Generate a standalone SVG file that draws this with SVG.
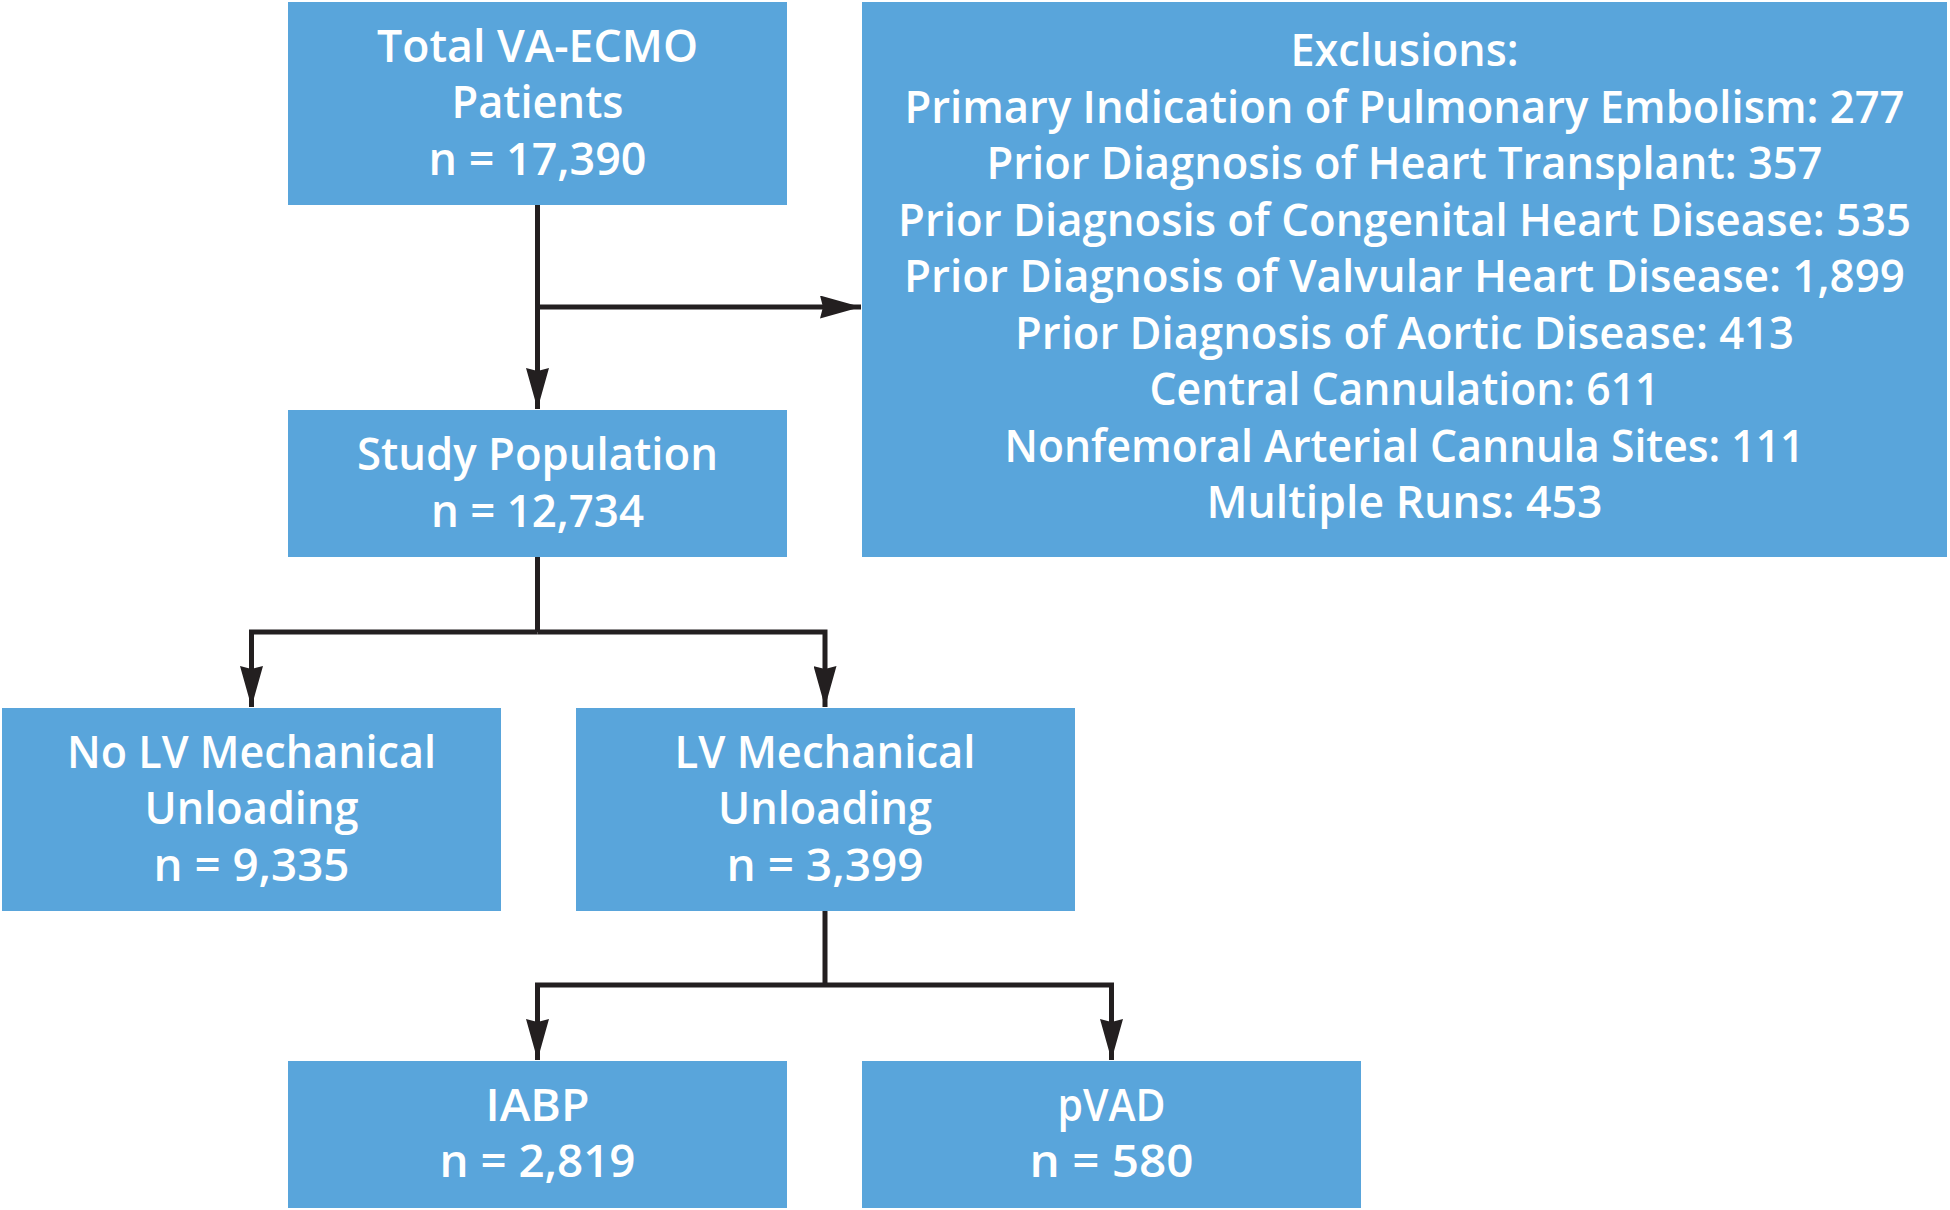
<svg xmlns="http://www.w3.org/2000/svg" width="1950" height="1210" viewBox="0 0 1950 1210">
<style>
.box{fill:#59a5db}
.t{font-family:"Open Sans","Noto Sans","Liberation Sans",sans-serif;font-size:45px;font-weight:600;fill:#ffffff;text-anchor:middle}
.c{fill:none;stroke:#231f20;stroke-width:5;stroke-linejoin:miter}
</style>
<defs>
<marker id="ah" viewBox="0 0 41 23" refX="41" refY="11.5" markerWidth="41" markerHeight="23" markerUnits="userSpaceOnUse" orient="auto">
<path d="M0,0 L41,11.5 L0,23 L3,11.5 z" fill="#231f20"/>
</marker>
</defs>
<rect width="1950" height="1210" fill="#ffffff"/>
<g id="connectors">
<path class="c" d="M537.5,205 V409" marker-end="url(#ah)"/>
<path class="c" d="M537.5,307 H861" marker-end="url(#ah)"/>
<path class="c" d="M537.5,557 V632"/>
<path class="c" d="M537.5,632 H251.5 V707" marker-end="url(#ah)"/>
<path class="c" d="M537.5,632 H825 V707" marker-end="url(#ah)"/>
<path class="c" d="M825,911 V985"/>
<path class="c" d="M825,985 H537.5 V1060" marker-end="url(#ah)"/>
<path class="c" d="M825,985 H1111.5 V1060" marker-end="url(#ah)"/>
</g>
<g id="total">
<rect class="box" x="288" y="2" width="499" height="203"/>
<text class="t" x="537.5" y="61.5" textLength="321" lengthAdjust="spacingAndGlyphs">Total VA-ECMO</text>
<text class="t" x="537.5" y="118" textLength="172" lengthAdjust="spacingAndGlyphs">Patients</text>
<text class="t" x="537.5" y="174.5" textLength="218" lengthAdjust="spacingAndGlyphs">n = 17,390</text>
</g>
<g id="exclusions">
<rect class="box" x="862" y="2" width="1085" height="555"/>
<text class="t" x="1404.5" y="66" textLength="228" lengthAdjust="spacingAndGlyphs">Exclusions:</text>
<text class="t" x="1404.5" y="122.5" textLength="1000" lengthAdjust="spacingAndGlyphs">Primary Indication of Pulmonary Embolism: 277</text>
<text class="t" x="1404.5" y="179" textLength="836" lengthAdjust="spacingAndGlyphs">Prior Diagnosis of Heart Transplant: 357</text>
<text class="t" x="1404.5" y="235.5" textLength="1013" lengthAdjust="spacingAndGlyphs">Prior Diagnosis of Congenital Heart Disease: 535</text>
<text class="t" x="1404.5" y="292" textLength="1001" lengthAdjust="spacingAndGlyphs">Prior Diagnosis of Valvular Heart Disease: 1,899</text>
<text class="t" x="1404.5" y="348.5" textLength="779" lengthAdjust="spacingAndGlyphs">Prior Diagnosis of Aortic Disease: 413</text>
<text class="t" x="1404.5" y="405" textLength="510" lengthAdjust="spacingAndGlyphs">Central Cannulation: 611</text>
<text class="t" x="1404.5" y="461.5" textLength="800" lengthAdjust="spacingAndGlyphs">Nonfemoral Arterial Cannula Sites: 111</text>
<text class="t" x="1404.5" y="518" textLength="396" lengthAdjust="spacingAndGlyphs">Multiple Runs: 453</text>
</g>
<g id="study">
<rect class="box" x="288" y="410" width="499" height="147"/>
<text class="t" x="537.5" y="470" textLength="361" lengthAdjust="spacingAndGlyphs">Study Population</text>
<text class="t" x="537.5" y="526.5" textLength="213" lengthAdjust="spacingAndGlyphs">n = 12,734</text>
</g>
<g id="nolv">
<rect class="box" x="2" y="708" width="499" height="203"/>
<text class="t" x="251.5" y="767.5" textLength="369" lengthAdjust="spacingAndGlyphs">No LV Mechanical</text>
<text class="t" x="251.5" y="824" textLength="214" lengthAdjust="spacingAndGlyphs">Unloading</text>
<text class="t" x="251.5" y="880.5" textLength="196" lengthAdjust="spacingAndGlyphs">n = 9,335</text>
</g>
<g id="lv">
<rect class="box" x="576" y="708" width="499" height="203"/>
<text class="t" x="825" y="767.5" textLength="301" lengthAdjust="spacingAndGlyphs">LV Mechanical</text>
<text class="t" x="825" y="824" textLength="214" lengthAdjust="spacingAndGlyphs">Unloading</text>
<text class="t" x="825" y="880.5" textLength="197" lengthAdjust="spacingAndGlyphs">n = 3,399</text>
</g>
<g id="iabp">
<rect class="box" x="288" y="1061" width="499" height="147"/>
<text class="t" x="537.5" y="1120.5" textLength="104" lengthAdjust="spacingAndGlyphs">IABP</text>
<text class="t" x="537.5" y="1177" textLength="196" lengthAdjust="spacingAndGlyphs">n = 2,819</text>
</g>
<g id="pvad">
<rect class="box" x="862" y="1061" width="499" height="147"/>
<text class="t" x="1111.5" y="1120.5" textLength="108" lengthAdjust="spacingAndGlyphs">pVAD</text>
<text class="t" x="1111.5" y="1177" textLength="164" lengthAdjust="spacingAndGlyphs">n = 580</text>
</g>
</svg>
